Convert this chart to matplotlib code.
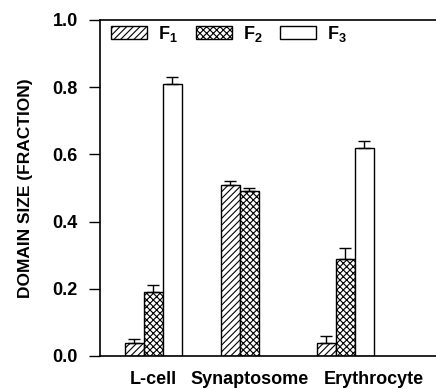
import matplotlib
matplotlib.use("Agg")
import matplotlib.pyplot as plt
import numpy as np

plt.rcParams['font.family'] = 'Liberation Sans'
plt.rcParams['font.weight'] = 'bold'
plt.rcParams['axes.labelweight'] = 'bold'
plt.rcParams['mathtext.fontset'] = 'custom'
plt.rcParams['mathtext.rm'] = 'Liberation Sans:bold'
plt.rcParams['mathtext.bf'] = 'Liberation Sans:bold'
plt.rcParams['hatch.linewidth'] = 0.8

categories = ['L-cell', 'Synaptosome', 'Erythrocyte']
f1 = [0.04, 0.51, 0.04]
f1_err = [0.01, 0.01, 0.02]
f2 = [0.19, 0.49, 0.29]
f2_err = [0.02, 0.01, 0.03]
f3 = [0.81, None, 0.62]
f3_err = [0.02, None, 0.02]
labels = [r'$\mathbf{F_1}$', r'$\mathbf{F_2}$', r'$\mathbf{F_3}$']

fig = plt.figure(figsize=(4.36, 3.89), dpi=100)
ax = fig.add_axes([100/436, 33/389, 336/436, 336/389])

x = np.arange(len(categories))
w = 0.198
series = [(f1, f1_err, '/////', -w), (f2, f2_err, 'xxxxx', 0), (f3, f3_err, None, w)]

handles = []
for (vals, errs, hatch, off), lab in zip(series, labels):
    idx = [i for i, v in enumerate(vals) if v is not None]
    xs = x[idx] + off
    hs = [vals[i] for i in idx]
    es = [errs[i] for i in idx]
    b = ax.bar(xs, hs, width=w, color='white', edgecolor='black', hatch=hatch,
               linewidth=1.0, label=lab, zorder=2)
    ax.errorbar(xs, hs, yerr=[np.zeros(len(es)), es], fmt='none', ecolor='black',
                elinewidth=1.0, capsize=4, capthick=1.0, zorder=3)
    handles.append(b)

ax.set_xlim(-0.557, 2.943)
ax.set_ylim(0, 1.0)
ax.set_yticks([0, 0.2, 0.4, 0.6, 0.8, 1.0])
ax.set_yticklabels(['0.0', '0.2', '0.4', '0.6', '0.8', '1.0'], fontsize=13)
ax.set_xticks([0, 1.0, 2.3])
ax.set_xticklabels(categories, fontsize=13)
ax.tick_params(axis='x', length=0, pad=11)
ax.tick_params(axis='y', direction='out', length=8, width=1.0, pad=8)
ax.set_ylabel('DOMAIN SIZE (FRACTION)', fontsize=12.5, fontweight='bold', labelpad=14)

ax.spines['right'].set_visible(False)
for s in ['left', 'top', 'bottom']:
    ax.spines[s].set_linewidth(1.2)

ax.legend(handles=handles, loc='upper left', bbox_to_anchor=(0.0, 1.02), ncol=3,
          frameon=False, fontsize=13, handlelength=2.0, handleheight=0.7,
          handletextpad=0.6, columnspacing=1.0, borderaxespad=0.2)

fig.savefig('out.png', dpi=100)
